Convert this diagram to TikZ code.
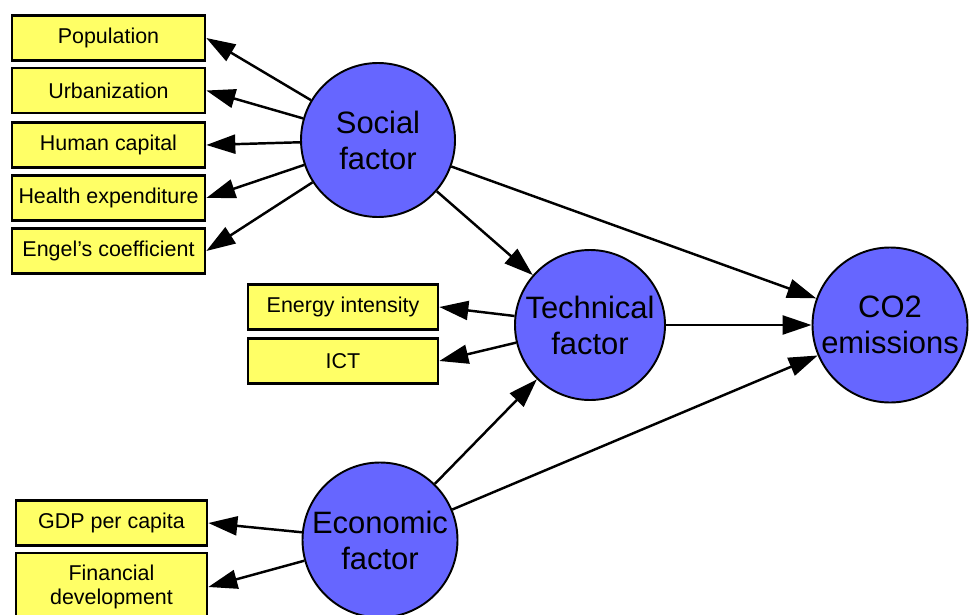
\documentclass[tikz,border=0pt]{standalone}
\usepackage{fontspec}
\setmainfont{Liberation Sans}
\usetikzlibrary{arrows.meta}
\definecolor{factorfill}{RGB}{102,102,255}
\definecolor{itemfill}{RGB}{255,255,102}

\begin{document}
\begin{tikzpicture}[
  factor/.style={circle,draw,line width=1.1pt,fill=factorfill,minimum size=3.08cm,inner sep=0pt,align=center,font=\fontsize{17.6}{20.5}\selectfont},
  item/.style={draw,line width=1.5pt,fill=itemfill,minimum width=3.86cm,minimum height=0.9cm,inner sep=1pt,align=center,font=\fontsize{12.2}{14}\selectfont},
  link/.style={line width=1.4pt,-{Triangle[length=0.58cm,width=0.38cm]}}
]
\useasboundingbox (0,0) rectangle (19.46,-12.30);

% latent factors
\node [factor] (social) at (7.56,-2.80) {Social\\factor};
\node [factor,minimum size=3cm] (tech) at (11.80,-6.50) {Technical\\factor};
\node [factor,minimum size=3.1cm] (econ) at (7.60,-10.80) {Economic\\factor};
\node [factor,minimum size=3.1cm] (co2) at (17.80,-6.50) {CO2\\emissions};

% indicators of the social factor
\node [item] (pop) at (2.17,-0.76) {Population};
\node [item] (urban) at (2.17,-1.81) {Urbanization};
\node [item] (human) at (2.17,-2.90) {Human capital};
\node [item] (health) at (2.17,-3.96) {Health expenditure};
\node [item] (engel) at (2.17,-5.02) {Engel's coefficient};

% indicators of the technical factor
\node [item,minimum width=3.8cm] (energy) at (6.86,-6.14) {Energy intensity};
\node [item,minimum width=3.8cm] (ict) at (6.86,-7.22) {ICT};

% indicators of the economic factor
\node [item,minimum width=3.82cm] (gdp) at (2.23,-10.46) {GDP per capita};
\node [item,minimum width=3.82cm,minimum height=1.36cm] (fin) at (2.23,-11.74) {Financial\\development};

\draw [link] (social) -- (pop.east);
\draw [link] (social) -- (urban.east);
\draw [link] (social) -- (human.east);
\draw [link] (social) -- (health.east);
\draw [link] (social) -- (engel.east);

\draw [link] (tech) -- (energy.east);
\draw [link] (tech) -- (ict.east);

\draw [link] (econ) -- (gdp.east);
\draw [link] (econ) -- (fin.east);

\draw [link] (social) -- (tech);
\draw [link] (econ) -- (tech);
\draw [link] (social) -- (co2);
\draw [link] (tech) -- (co2);
\draw [link] (econ) -- (co2);
\end{tikzpicture}
\end{document}
